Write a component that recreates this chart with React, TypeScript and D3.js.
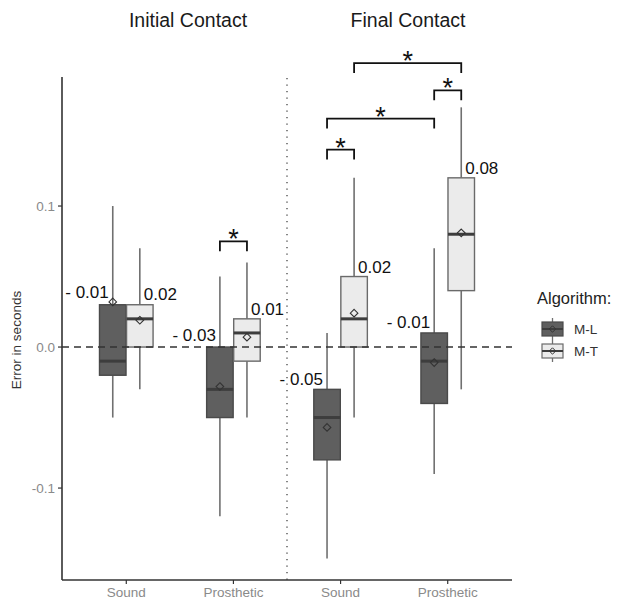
import React from "react";
import * as d3 from "d3";

const categoryIds = ["IC-Sound", "IC-Prosthetic", "FC-Sound", "FC-Prosthetic"];
const categoryLabels = ["Sound", "Prosthetic", "Sound", "Prosthetic"];
const panelTitles = ["Initial Contact", "Final Contact"];
const algorithms = ["M-L", "M-T"];
const yTicks = [-0.1, 0.0, 0.1];

// M-L box statistics per category
const mlLower = [-0.05, -0.12, -0.15, -0.09];
const mlQ1 = [-0.02, -0.05, -0.08, -0.04];
const mlMedian = [-0.01, -0.03, -0.05, -0.01];
const mlQ3 = [0.03, 0.0, -0.03, 0.01];
const mlUpper = [0.1, 0.05, 0.01, 0.07];
const mlMean = [0.032, -0.028, -0.057, -0.011];

// M-T box statistics per category
const mtLower = [-0.03, -0.05, -0.05, -0.03];
const mtQ1 = [0.0, -0.01, 0.0, 0.04];
const mtMedian = [0.02, 0.01, 0.02, 0.08];
const mtQ3 = [0.03, 0.02, 0.05, 0.12];
const mtUpper = [0.07, 0.06, 0.12, 0.17];
const mtMean = [0.019, 0.007, 0.024, 0.081];

// value annotations
const mlLabels = ["- 0.01", "- 0.03", "- 0.05", "- 0.01"];
const mlLabelY = [0.039, 0.0085, -0.0227, 0.0177];
const mtLabels = ["0.02", "0.01", "0.02", "0.08"];
const mtLabelY = [0.0376, 0.027, 0.0567, 0.127];

// significance brackets: [category, algorithm] -> [category, algorithm] at height
const bracketFromCat = [1, 2, 2, 3, 2];
const bracketFromAlg = [0, 0, 0, 0, 1];
const bracketToCat = [1, 2, 3, 3, 3];
const bracketToAlg = [1, 1, 0, 1, 1];
const bracketY = [0.075, 0.14, 0.162, 0.182, 0.2014];

const W = 617;
const H = 601;
const FONT = "'Liberation Sans', Arial, Helvetica, sans-serif";

const fills = ["#5f5f5f", "#ebebeb"];
const strokes = ["#4a4a4a", "#6a6a6a"];

export default function App() {
  const x = d3.scalePoint<string>().domain(categoryIds).range([62, 512]).padding(0.6);
  const step = x.step();
  const y = d3.scaleLinear().domain([-0.1652, 0.1915]).range([580, 77]);
  const dodge = d3.scaleBand<string>().domain(algorithms).range([-0.25 * step, 0.25 * step]).paddingInner(0.02);
  const boxW = dodge.bandwidth();
  const cx = (ci: number, ai: number) => (x(categoryIds[ci]) as number) + (dodge(algorithms[ai]) as number) + boxW / 2;

  const stats = [
    { lower: mlLower, q1: mlQ1, median: mlMedian, q3: mlQ3, upper: mlUpper, mean: mlMean },
    { lower: mtLower, q1: mtQ1, median: mtMedian, q3: mtQ3, upper: mtUpper, mean: mtMean },
  ];

  const diamond = (px: number, py: number, r: number) =>
    `M${px},${py - r}L${px + r},${py}L${px},${py + r}L${px - r},${py}Z`;

  const sepX = ((x(categoryIds[1]) as number) + (x(categoryIds[2]) as number)) / 2;
  const tip = y(0) - y(0.007);

  return (
    <svg width={W} height={H} style={{ position: "absolute", left: 0, top: 0, background: "#fff" }} fontFamily={FONT}>
      {/* panel titles */}
      {panelTitles.map((t, i) => (
        <text key={t} x={i === 0 ? 188 : 408} y={27} fontSize={19.5} textAnchor="middle" fill="#1a1a1a">
          {t}
        </text>
      ))}

      {/* boxes */}
      {stats.map((s, ai) =>
        categoryIds.map((c, ci) => {
          const px = cx(ci, ai);
          return (
            <g key={`${c}-${ai}`}>
              <line x1={px} x2={px} y1={y(s.upper[ci])} y2={y(s.q3[ci])} stroke="#707070" strokeWidth={1.6} />
              <line x1={px} x2={px} y1={y(s.q1[ci])} y2={y(s.lower[ci])} stroke="#707070" strokeWidth={1.6} />
              <rect
                x={px - boxW / 2}
                y={y(s.q3[ci])}
                width={boxW}
                height={y(s.q1[ci]) - y(s.q3[ci])}
                fill={fills[ai]}
                stroke={strokes[ai]}
                strokeWidth={1.4}
              />
              <line
                x1={px - boxW / 2}
                x2={px + boxW / 2}
                y1={y(s.median[ci])}
                y2={y(s.median[ci])}
                stroke="#3d3d3d"
                strokeWidth={3}
              />
            </g>
          );
        })
      )}

      {/* zero dashed line */}
      <line x1={62} x2={512} y1={y(0)} y2={y(0)} stroke="#333" strokeWidth={1.5} strokeDasharray="7,5" />

      {/* means */}
      {stats.map((s, ai) =>
        categoryIds.map((c, ci) => (
          <path key={`m-${c}-${ai}`} d={diamond(cx(ci, ai), y(s.mean[ci]), 3.8)} fill="none" stroke="#333" strokeWidth={1.1} />
        ))
      )}

      {/* separator */}
      <line x1={sepX} x2={sepX} y1={78} y2={580} stroke="#444" strokeWidth={1.3} strokeDasharray="1.3,5.2" />

      {/* axes */}
      <line x1={62} x2={62} y1={77} y2={580} stroke="#333" strokeWidth={1.6} />
      <line x1={62} x2={512} y1={580} y2={580} stroke="#333" strokeWidth={1.6} />
      {yTicks.map((t) => (
        <g key={t}>
          <line x1={58} x2={62} y1={y(t)} y2={y(t)} stroke="#333" strokeWidth={1.2} />
          <text x={55} y={y(t)} dy="0.35em" fontSize={13.5} textAnchor="end" fill="#8a8a8a">
            {d3.format(".1f")(t).replace("−", "-")}
          </text>
        </g>
      ))}
      {categoryIds.map((c, ci) => (
        <g key={c}>
          <line x1={x(c)} x2={x(c)} y1={580} y2={584} stroke="#333" strokeWidth={1.2} />
          <text x={x(c)} y={597} fontSize={13.5} textAnchor="middle" fill="#8a8a8a">
            {categoryLabels[ci]}
          </text>
        </g>
      ))}
      <text transform={`translate(21,${340}) rotate(-90)`} fontSize={13.5} textAnchor="middle" fill="#333">
        Error in seconds
      </text>

      {/* value labels */}
      {categoryIds.map((c, ci) => (
        <g key={`lab-${c}`}>
          <text x={cx(ci, 0) - 4} y={y(mlLabelY[ci])} dy="0.36em" fontSize={17} textAnchor="end" fill="#111">
            {mlLabels[ci]}
          </text>
          <text x={cx(ci, 1) + 4} y={y(mtLabelY[ci])} dy="0.36em" fontSize={17} textAnchor="start" fill="#111">
            {mtLabels[ci]}
          </text>
        </g>
      ))}

      {/* significance brackets */}
      {bracketY.map((by, i) => {
        const x1 = cx(bracketFromCat[i], bracketFromAlg[i]);
        const x2 = cx(bracketToCat[i], bracketToAlg[i]);
        const yy = y(by);
        return (
          <g key={`br-${i}`}>
            <path d={`M${x1},${yy + tip}V${yy}H${x2}V${yy + tip}`} fill="none" stroke="#111" strokeWidth={1.8} />
            <text x={(x1 + x2) / 2} y={yy + 7} fontSize={27} textAnchor="middle" fill="#111">
              *
            </text>
          </g>
        );
      })}

      {/* legend */}
      <text x={537} y={304} fontSize={16.5} fill="#222">
        Algorithm:
      </text>
      {algorithms.map((a, ai) => {
        const ky = 329 + ai * 22;
        const kx = 552.5;
        return (
          <g key={a}>
            <line x1={kx} x2={kx} y1={ky - 11} y2={ky + 11} stroke="#707070" strokeWidth={1.3} />
            <rect x={kx - 10.5} y={ky - 7} width={21} height={14} fill={fills[ai]} stroke={strokes[ai]} strokeWidth={1.2} />
            <line x1={kx - 10.5} x2={kx + 10.5} y1={ky} y2={ky} stroke="#3d3d3d" strokeWidth={2} />
            <path d={diamond(kx, ky, 3.2)} fill="none" stroke="#333" strokeWidth={1} />
            <text x={574} y={ky} dy="0.36em" fontSize={13.5} fill="#333">
              {a}
            </text>
          </g>
        );
      })}
    </svg>
  );
}
